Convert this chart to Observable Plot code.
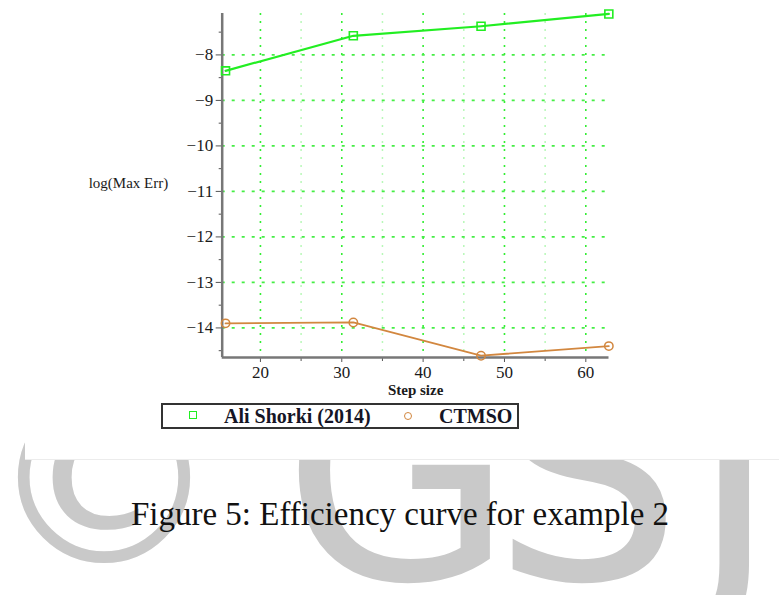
<!DOCTYPE html>
<html>
<head>
<meta charset="utf-8">
<script src="https://cdn.jsdelivr.net/npm/d3@7"></script>
<script src="https://cdn.jsdelivr.net/npm/@observablehq/plot@0.6"></script>
<style>
  html, body { margin: 0; padding: 0; background: #fff; }
  #page { position: relative; width: 779px; height: 595px; overflow: hidden; background: #fff; }
  .wm { position: absolute; font-family: "DejaVu Sans", sans-serif; color: #c9c9c9; line-height: 1; z-index: 0; }
  #panel { position: absolute; left: 25px; top: 0; width: 754px; height: 459px; background: #fff; border-bottom: 1px solid #ececec; z-index: 1; }
  #chart { position: absolute; left: 0; top: 0; z-index: 2; }
  .serif { font-family: "Liberation Serif", "Times New Roman", Tinos, Times, "Noto Serif", "DejaVu Serif", serif; }
  #legend { position: absolute; left: 161px; top: 403px; width: 354px; height: 22px; border: 2px solid #333; background: #fff; z-index: 3;
            font-weight: bold; font-size: 20px; color: #151525; }
  #legend span { position: absolute; top: 0px; line-height: 22px; white-space: nowrap; }
  #caption { position: absolute; left: 0; width: 800px; top: 496px; text-align: center; z-index: 2;
             font-size: 33px; color: #111; white-space: nowrap; }
</style>
</head>
<body>
<div id="page">
  <div class="wm" style="left:-15px; top:362px; font-size:238px;">©</div>
  <div class="wm" style="left:282px; top:326px; font-size:300px;">G</div>
  <div class="wm" style="left:492px; top:326px; font-size:300px;">S</div>
  <div class="wm" style="left:690px; top:326px; font-size:300px;">J</div>
  <div id="panel"></div>
  <div id="chart" class="serif"></div>
  <div id="legend" class="serif"></div>
  <div id="caption" class="serif">Figure 5: Efficiency curve for example 2</div>
</div>
<script>
// ---- data ----
const stepSize = [15.71, 31.42, 47.12, 62.83];
const aliShorki = [-8.35, -7.58, -7.37, -7.10];
const ctmso = [-13.90, -13.88, -14.61, -14.40];
const seriesNames = ["Ali Shorki (2014)", "CTMSO"];
const seriesColors = ["#22ee22", "#d2873f"];
const xMajor = [20, 30, 40, 50, 60];
const xMinor = [25, 35, 45, 55];
const yMajor = [-8, -9, -10, -11, -12, -13, -14];
const yMinor = [-7.5, -8.5, -9.5, -10.5, -11.5, -12.5, -13.5, -14.5];
const xLabel = "Step size";
const yLabel = "log(Max Err)";

const xDomain = [15.3, 62.85];
const yDomain = [-14.65, -7.09];

const green = stepSize.map((x, i) => ({x, y: aliShorki[i]}));
const orange = stepSize.map((x, i) => ({x, y: ctmso[i]}));

const W = 779, H = 420;
const fmt = d => "\u2212" + Math.abs(d);
const serifFont = '"Liberation Serif", "Times New Roman", Tinos, Times, "Noto Serif", "DejaVu Serif", serif';

const plot = Plot.plot({
  width: W,
  height: H,
  marginLeft: 221.7,
  marginRight: W - 608.5,
  marginTop: 13,
  marginBottom: H - 357,
  style: { fontFamily: serifFont, fontSize: "16px", color: "#1a1a1a", background: "transparent", overflow: "visible" },
  x: { domain: xDomain },
  y: { domain: yDomain },
  marks: [
    Plot.ruleX(xMinor, { stroke: "#b8f8b8", strokeWidth: 1.5, strokeDasharray: "2,6" }),
    Plot.ruleX(xMajor, { stroke: "#33ee33", strokeWidth: 1.6, strokeDasharray: "2,6" }),
    Plot.ruleY(yMajor, { stroke: "#44ee44", strokeWidth: 1.6, strokeDasharray: "3,7" }),
    Plot.axisY(yMajor, { tickSize: 6, tickPadding: 3, tickFormat: fmt, stroke: "#555", label: null, fontSize: 17 }),
    Plot.axisY(yMinor, { tickSize: 3, text: null, stroke: "#555", label: null }),
    Plot.axisX(xMajor, { tickSize: 5, tickPadding: 3, tickFormat: d => String(d), stroke: "#555", label: null, fontSize: 17 }),
    Plot.axisX(xMinor, { tickSize: 4, text: null, stroke: "#555", label: null }),
    Plot.ruleX([xDomain[0]], { stroke: "#777", strokeWidth: 2.5 }),
    Plot.ruleY([yDomain[0]], { stroke: "#777", strokeWidth: 2.5 }),
    Plot.line(green, { x: "x", y: "y", stroke: seriesColors[0], strokeWidth: 2.2 }),
    Plot.dot(green, { x: "x", y: "y", symbol: "square", r: 4.5, stroke: seriesColors[0], strokeWidth: 1.6, fill: "white", fillOpacity: 0 }),
    Plot.line(orange, { x: "x", y: "y", stroke: seriesColors[1], strokeWidth: 1.8 }),
    Plot.dot(orange, { x: "x", y: "y", symbol: "circle", r: 4.2, stroke: seriesColors[1], strokeWidth: 1.5, fill: "none" }),
    Plot.text([yLabel], { frameAnchor: "left", dx: -54, dy: -2, textAnchor: "end", fontSize: 15, fill: "#1a1a1a" }),
    Plot.text([xLabel], { frameAnchor: "bottom", dy: 37, textAnchor: "middle", fontSize: 15, fontWeight: "bold", fill: "#1a1a1a" })
  ]
});
document.getElementById("chart").appendChild(plot);

// legend
const legend = document.getElementById("legend");
legend.innerHTML = `
  <span style="left:26px; top:6px; width:8px; height:8px; border:1.6px solid ${seriesColors[0]}; box-sizing:border-box;"></span>
  <span style="left:61px;">${seriesNames[0]}</span>
  <span style="left:241px; top:7px; width:8px; height:8px; border:1.6px solid ${seriesColors[1]}; border-radius:50%; box-sizing:border-box;"></span>
  <span style="left:276px;">${seriesNames[1]}</span>`;
</script>
</body>
</html>
